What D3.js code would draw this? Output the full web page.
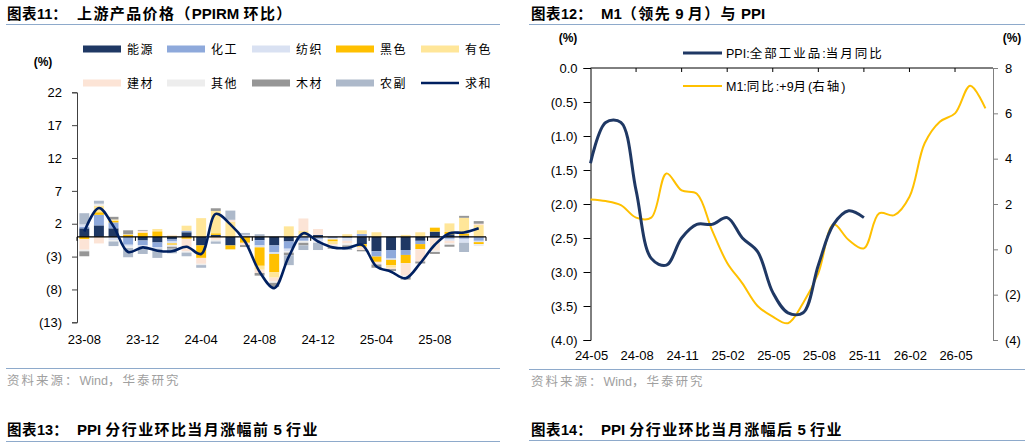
<!DOCTYPE html>
<html><head><meta charset="utf-8">
<script src="https://cdn.jsdelivr.net/npm/d3@7"></script>
<style>
body{margin:0;background:#fff}
text{font-family:"Liberation Sans",Arial,"Noto Sans CJK SC",sans-serif;fill:#000}
</style>
</head><body>
<svg id="c" width="1030" height="448"></svg>
<script>
// ---------- Data: chart 11 (PPIRM m/m contributions) ----------
const categories = ["23-08","23-09","23-10","23-11","23-12","24-01","24-02","24-03","24-04","24-05","24-06","24-07",
  "24-08","24-09","24-10","24-11","24-12","25-01","25-02","25-03","25-04","25-05","25-06","25-07","25-08","25-09","25-10","25-11"];
const seriesNames = ["能源","化工","纺织","黑色","有色","建材","其他","木材","农副"];
const energy   = [1.3,1.75,1.3,0,-0.55,-0.85,-0.4,0.7,-1.3,0.3,-1.3,0,-0.5,-1.3,-0.7,0,0.3,0,0,-1.1,-2.2,-2.0,-2.0,-0.6,0.8,0.4,0.2,0];
const chemical = [0.25,1.6,0.9,-1.2,-0.7,-0.75,-0.3,0.25,0,0,0,0,-0.8,-1.0,-1.1,-0.6,-0.3,-0.2,-0.2,0.45,-0.8,-1.3,-0.75,-0.5,-0.2,-0.3,-0.3,-0.6];
const textile  = [0.35,0,-0.5,-0.3,-0.3,-0.2,-0.3,0,0,0,0,0.3,-0.3,-0.3,-0.4,0.2,-0.4,-0.2,-0.4,0,0,-0.2,0,0,0,-0.3,-0.6,-0.2];
const ferrous  = [-0.35,0.4,0.25,0.3,0.65,0.85,-0.2,-0.3,-1.9,0.25,-0.6,-0.9,-2.8,-2.8,0,0,0,-0.3,0.15,-0.4,-0.8,-0.8,-1.25,-0.75,0.6,0.35,0.3,-0.3];
const nonferrous=[0,1.0,0.2,0.1,0,0.35,0.2,0.75,2.85,3.4,2.3,0,-0.6,-0.8,1.6,0.7,0,-0.4,0.25,0.55,0.7,-0.4,0.3,0.7,0,1.3,2.4,1.8];
const building = [-1.6,-1.0,0,0,0.3,0,0.1,-1.9,-0.9,-0.45,0.3,-0.35,-0.5,-0.6,0,1.9,0.9,-0.2,-0.4,-0.5,-0.3,-0.2,-1.9,-1.9,-1.9,-0.4,0,0.2];
const others   = [-0.25,0.3,-0.2,-0.2,-0.2,0,-0.3,-0.2,-0.2,-0.25,0,0,0,-0.2,-0.2,-0.3,-0.2,-0.2,-0.3,0,-0.1,0,-0.2,0,-0.2,-0.2,0,-0.3];
const timber   = [-0.75,0,0.4,0.6,0.1,0,-0.3,0,0,0.4,0,-0.3,-0.4,-0.6,-0.4,-0.4,0,-0.3,-0.3,-0.2,-0.5,-0.3,-0.4,-0.3,-0.3,-0.3,0.3,0.4];
const agri     = [1.7,0.45,-0.7,-1.4,-0.85,-1.4,-0.7,-0.55,-0.4,-0.35,1.4,0.3,0.4,0,-1.5,-0.7,-1.1,0,-0.4,0,0,0,0,0,0,0,-1.4,0];
const sumValues= [0.8,4.4,1.6,-2.3,-1.6,-2.1,-2.2,-1.5,-2.6,3.5,1.9,-0.7,-5.3,-7.8,-3.0,0.56,-0.7,-1.6,-1.7,-1.2,-4.5,-5.3,-6.3,-4.0,-1.2,0.56,0.66,1.3];
const leftTicks = [22,17,12,7,2,-3,-8,-13];
const leftXLabels = ["23-08","23-12","24-04","24-08","24-12","25-04","25-08"];

// ---------- Data: chart 12 (M1 lead 9m vs PPI) ----------
const monthLabels = ["24-05","24-08","24-11","25-02","25-05","25-08","25-11","26-02","26-05"];
const ppiValues = [-1.4,-0.8,-0.8,-1.8,-2.8,-2.9,-2.5,-2.3,-2.3,-2.2,-2.5,-2.7,-3.3,-3.6,-3.6,-2.9,-2.3,-2.1,-2.2];
const m1Values  = [2.2,2.13,1.95,1.4,1.4,3.35,2.6,2.45,0.85,-0.6,-1.5,-2.5,-2.97,-3.26,-2.37,-1.05,1.1,0.41,0.04,1.59,1.51,2.32,4.68,5.63,6.0,7.22,6.22];
const ppiTicks = [0,-0.5,-1,-1.5,-2,-2.5,-3,-3.5,-4];
const m1Ticks  = [8,6,4,2,0,-2,-4];

// ---------- Styles ----------
const colors = ["#1F3864","#8EA9DB","#D9E1F2","#FFC000","#FFE699","#FCE4D6","#EDEDED","#969696","#ADB9CA"];
const sepColor = "#8EAACB";
const cjk = '"Noto Sans CJK SC","Liberation Sans",sans-serif';

const svg = d3.select("#c");
const fmtParen = v => v < 0 ? "(" + Math.abs(v) + ")" : String(v);

// text with letter-spacing applied to CJK runs only
function mixedText(sel, str, spacing) {
  const parts = str.split(/([\x00-\x7F]+)/).filter(p => p.length);
  parts.forEach(p => {
    const ascii = /^[\x00-\x7F]+$/.test(p);
    sel.append("tspan").style("letter-spacing", ascii ? "0px" : spacing + "px")
      .style("font-family", ascii ? '"Liberation Sans",Arial,sans-serif' : cjk)
      .attr("xml:space", "preserve").text(ascii ? p.replace(/ /g, "\u00A0") : p);
  });
  return sel;
}

// ---------- Headers / footers ----------
function header(x0, num, rest, restX, y) {
  const t1 = svg.append("text").attr("x", x0 + 1).attr("y", y).attr("font-size", 14.5).attr("font-weight", "bold");
  mixedText(t1, num, 0.5);
  const t2 = svg.append("text").attr("x", restX).attr("y", y).attr("font-size", 15).attr("font-weight", "bold");
  mixedText(t2, rest, 1.4);
}
function sep(x0, x1, y) {
  svg.append("line").attr("x1", x0).attr("x2", x1).attr("y1", y).attr("y2", y)
    .attr("stroke", sepColor).attr("stroke-width", 1);
}
function source(x, y) {
  const t = svg.append("text").attr("x", x).attr("y", y).attr("font-size", 12.5).style("fill", "#A0A0A0");
  mixedText(t, "资料来源：Wind，华泰研究", 2);
  t.selectAll("tspan").style("fill", "#A0A0A0");
}
header(6, "图表11：", "上游产品价格（PPIRM 环比）", 77, 19);
sep(6, 500, 24.5);
header(530, "图表12：", "M1（领先 9 月）与 PPI", 601, 19);
sep(529, 1025, 24.5);
sep(6, 500, 368.5); sep(529, 1025, 369.5);
source(7, 385); source(531, 386);
header(6, "图表13：", "PPI 分行业环比当月涨幅前 5 行业", 77, 435);
sep(6, 500, 441.5);
header(530, "图表14：", "PPI 分行业环比当月涨幅后 5 行业", 601, 435);
sep(529, 1025, 440.5);

// ---------- Chart 11 ----------
const seriesData = [energy, chemical, textile, ferrous, nonferrous, building, others, timber, agri];
const rows = categories.map((c, i) => {
  const r = {cat: c};
  seriesNames.forEach((n, k) => r[n] = seriesData[k][i]);
  return r;
});
const x1 = d3.scaleBand().domain(categories).range([77, 486]).paddingInner(0.32).paddingOuter(0.16);
const y1 = d3.scaleLinear().domain([-13, 22]).range([322.3, 92.3]);
const stack = d3.stack().keys(seriesNames).offset(d3.stackOffsetDiverging)(rows);

const g1 = svg.append("g");
g1.selectAll("g.s").data(stack).join("g").attr("fill", (d, k) => colors[k])
  .selectAll("rect").data(d => d).join("rect")
  .attr("x", d => x1(d.data.cat)).attr("width", x1.bandwidth())
  .attr("y", d => y1(Math.max(d[0], d[1])))
  .attr("height", d => Math.abs(y1(d[0]) - y1(d[1])));

// y axis
const ax1 = g1.append("g").attr("transform", "translate(77,0)")
  .call(d3.axisLeft(y1).tickValues(leftTicks).tickFormat(fmtParen).tickSize(5).tickPadding(10));
ax1.select(".domain").attr("stroke", "#404040");
ax1.selectAll(".tick line").attr("stroke", "#404040");
ax1.selectAll("text").attr("font-size", 13).style("font-family", '"Liberation Sans",Arial,sans-serif');

// zero line with ticks every 4 categories
const step = x1.step();
g1.append("line").attr("x1", 77).attr("x2", 486).attr("y1", y1(0)).attr("y2", y1(0))
  .attr("stroke", "#000").attr("stroke-width", 1.2);
d3.range(0, categories.length + 1, 4).forEach(k => {
  const xx = x1.range()[0] + k * step;
  g1.append("line").attr("x1", xx).attr("x2", xx).attr("y1", y1(0)).attr("y2", y1(0) + 4)
    .attr("stroke", "#000").attr("stroke-width", 1);
});
// x labels
g1.selectAll("text.xl").data(leftXLabels).join("text").attr("class", "xl")
  .attr("x", d => x1(d) + x1.bandwidth() / 2).attr("y", 344).attr("text-anchor", "middle")
  .attr("font-size", 13).text(d => d);

// sum line
const line1 = d3.line().x((d, i) => x1(categories[i]) + x1.bandwidth() / 2).y(d => y1(d))
  .curve(d3.curveCatmullRom.alpha(0.5));
g1.append("path").datum(sumValues).attr("d", line1).attr("fill", "none")
  .attr("stroke", "#002060").attr("stroke-width", 2.6);

// (%) label
svg.append("text").attr("x", 43).attr("y", 66).attr("text-anchor", "middle").attr("font-size", 12)
  .attr("font-weight", "bold").text("(%)");

// legend
const legItems = seriesNames.map((n, k) => ({name: n, color: colors[k], type: "rect"}))
  .concat([{name: "求和", color: "#002060", type: "line"}]);
const colX = [83, 167, 252, 336, 421];
legItems.forEach((it, k) => {
  const cx = colX[k % 5], cy = k < 5 ? 49 : 83;
  if (it.type === "rect") {
    svg.append("rect").attr("x", cx).attr("y", cy - 3.5).attr("width", 38).attr("height", 7).attr("fill", it.color);
  } else {
    svg.append("line").attr("x1", cx).attr("x2", cx + 38).attr("y1", cy).attr("y2", cy)
      .attr("stroke", it.color).attr("stroke-width", 2.6);
  }
  svg.append("text").attr("x", cx + 44).attr("y", cy + 4.5).attr("font-size", 12)
    .style("font-family", cjk).style("letter-spacing", "1.5px").text(it.name);
});

// ---------- Chart 12 ----------
const x2 = d3.scaleLinear().domain([0, 26.5]).range([590.5, 993]);
const yL = d3.scaleLinear().domain([-4, 0]).range([340, 68]);
const yR = d3.scaleLinear().domain([-4, 8]).range([340, 68]);
const g2 = svg.append("g");

// top x axis line (crosses at 0.0)
g2.append("line").attr("x1", 590.5).attr("x2", 993).attr("y1", yL(0)).attr("y2", yL(0))
  .attr("stroke", "#000").attr("stroke-width", 1);
monthLabels.forEach((m, k) => {
  const xx = x2(k * 3);
  if (k > 0) g2.append("line").attr("x1", xx).attr("x2", xx).attr("y1", yL(0)).attr("y2", yL(0) + 4)
    .attr("stroke", "#000");
  g2.append("text").attr("x", xx + 1).attr("y", 360).attr("text-anchor", "middle").attr("font-size", 13).text(m);
});

const axL = g2.append("g").attr("transform", "translate(590.5,0)")
  .call(d3.axisLeft(yL).tickValues(ppiTicks).tickSize(7).tickPadding(6)
    .tickFormat(v => v < 0 ? "(" + d3.format(".1f")(-v) + ")" : d3.format(".1f")(v)));
axL.select(".domain").attr("stroke", "#000");
axL.selectAll("text").attr("font-size", 13);

const axR = g2.append("g").attr("transform", "translate(993,0)")
  .call(d3.axisRight(yR).tickValues(m1Ticks).tickSize(5).tickPadding(7).tickFormat(fmtParen));
axR.select(".domain").attr("stroke", "#808080");
axR.selectAll(".tick line").attr("stroke", "#808080");
axR.selectAll("text").attr("font-size", 13);

const lineM1 = d3.line().x((d, i) => x2(i)).y(d => yR(d)).curve(d3.curveCatmullRom.alpha(0.5));
const linePPI = d3.line().x((d, i) => x2(i)).y(d => yL(d)).curve(d3.curveCatmullRom.alpha(0.5));
g2.append("path").datum(m1Values).attr("d", lineM1).attr("fill", "none")
  .attr("stroke", "#FFC000").attr("stroke-width", 2);
g2.append("path").datum(ppiValues).attr("d", linePPI).attr("fill", "none")
  .attr("stroke", "#1F3864").attr("stroke-width", 3);

svg.append("text").attr("x", 568).attr("y", 42).attr("text-anchor", "middle").attr("font-size", 12)
  .attr("font-weight", "bold").text("(%)");
svg.append("text").attr("x", 1012).attr("y", 42).attr("text-anchor", "middle").attr("font-size", 12)
  .attr("font-weight", "bold").text("(%)");

// legend 12
[{t: "PPI:全部工业品:当月同比", c: "#1F3864", w: 3, y: 53}, {t: "M1:同比:+9月(右轴)", c: "#FFC000", w: 2, y: 86}]
  .forEach(it => {
    svg.append("line").attr("x1", 683).attr("x2", 722).attr("y1", it.y).attr("y2", it.y)
      .attr("stroke", it.c).attr("stroke-width", it.w);
    const t = svg.append("text").attr("x", 726).attr("y", it.y + 4.5).attr("font-size", 12.5);
    mixedText(t, it.t, 2);
  });
</script>
</body></html>
